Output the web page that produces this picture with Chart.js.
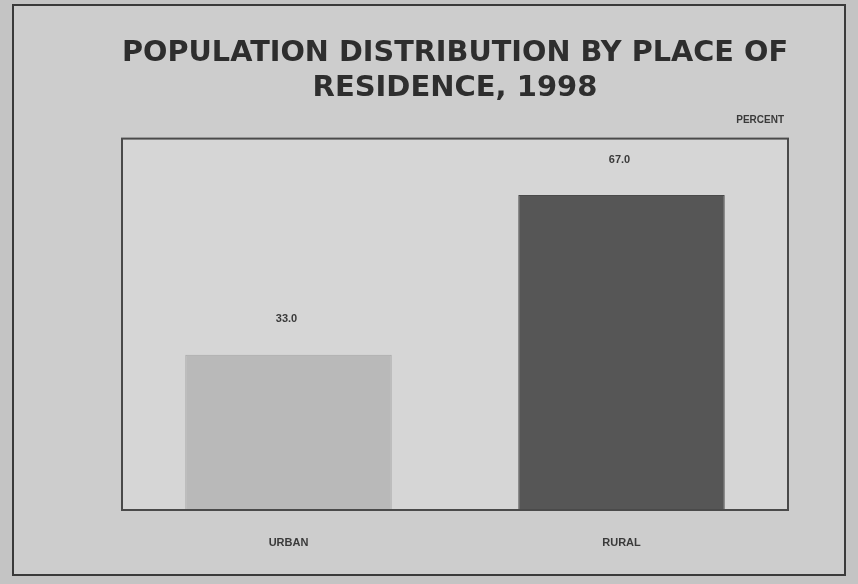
<!DOCTYPE html>
<html>
<head>
<meta charset="utf-8">
<script src="https://cdn.jsdelivr.net/npm/chart.js@4"></script>
<style>
  html, body { margin: 0; padding: 0; background: #c4c4c4; }
  #wrap { position: absolute; left: 0; top: 0; width: 858px; height: 584px; }
  #frame { position: absolute; left: 12px; top: 4px; width: 830px; height: 568px; border: 2px solid #3a3a3a; background: #cdcdcd; }
</style>
</head>
<body>
<div id="wrap">
  <div id="frame"></div>
  <canvas id="grafico" width="858" height="584" style="position:absolute;left:0;top:0;"></canvas>
</div>
<script>
var categorias = ["URBAN", "RURAL"];
var percentuais = [33.0, 67.0];
var coresBarras = ["#b9b9b9", "#565656"];

// desenha fundo e borda da area do grafico, rotulos de valor e "PERCENT"
var extras = {
    id: 'extras',
    beforeDatasetsDraw: function (chart) {
        var ctx = chart.ctx;
        var a = chart.chartArea;
        ctx.save();
        ctx.fillStyle = '#d6d6d6';
        ctx.fillRect(a.left, a.top, a.right - a.left, a.bottom - a.top);
        ctx.restore();
    },
    afterDatasetsDraw: function (chart) {
        var ctx = chart.ctx;
        var a = chart.chartArea;
        ctx.save();
        ctx.strokeStyle = '#4a4a4a';
        ctx.lineWidth = 2;
        ctx.strokeRect(a.left, a.top, a.right - a.left, a.bottom - a.top);

        ctx.fillStyle = '#3a3a3a';
        ctx.font = 'bold 11px "Liberation Sans", Arial';
        ctx.textAlign = 'center';
        ctx.textBaseline = 'bottom';
        var meta = chart.getDatasetMeta(0);
        meta.data.forEach(function (bar, i) {
            ctx.fillText(percentuais[i].toFixed(1), bar.x - 2, bar.y - 30);
        });

        ctx.font = 'bold 10px "Liberation Sans", Arial';
        ctx.textAlign = 'right';
        ctx.fillText('PERCENT', a.right - 4, a.top - 13);
        ctx.restore();
    }
};

var ctx = document.getElementById('grafico').getContext('2d');
new Chart(ctx, {
    type: 'bar',
    data: {
        labels: categorias,
        datasets: [{
            data: percentuais,
            backgroundColor: coresBarras,
            borderColor: ['#a8a8a8', '#4a4a4a'],
            borderWidth: 1,
            barPercentage: 0.62,
            categoryPercentage: 1.0
        }]
    },
    options: {
        responsive: false,
        animation: false,
        layout: { padding: { left: 122, right: 70, top: 36, bottom: 0 } },
        scales: {
            x: {
                grid: { display: false, drawBorder: false },
                border: { display: false },
                ticks: { color: '#3a3a3a', font: { family: '"Liberation Sans", Arial', size: 11, weight: 'bold' }, padding: 18 },
                afterFit: function (s) { s.height = 74; }
            },
            y: {
                display: false,
                min: 0,
                max: 79
            }
        },
        plugins: {
            legend: { display: false },
            tooltip: { enabled: false },
            title: {
                display: true,
                text: ['POPULATION DISTRIBUTION BY PLACE OF', 'RESIDENCE, 1998'],
                color: '#2e2e2e',
                font: { family: '"DejaVu Sans", Verdana', size: 29, weight: 'bold' },
                lineHeight: 1.17,
                padding: { top: 0, bottom: 33 }
            }
        }
    },
    plugins: [extras]
});
</script>
</body>
</html>
